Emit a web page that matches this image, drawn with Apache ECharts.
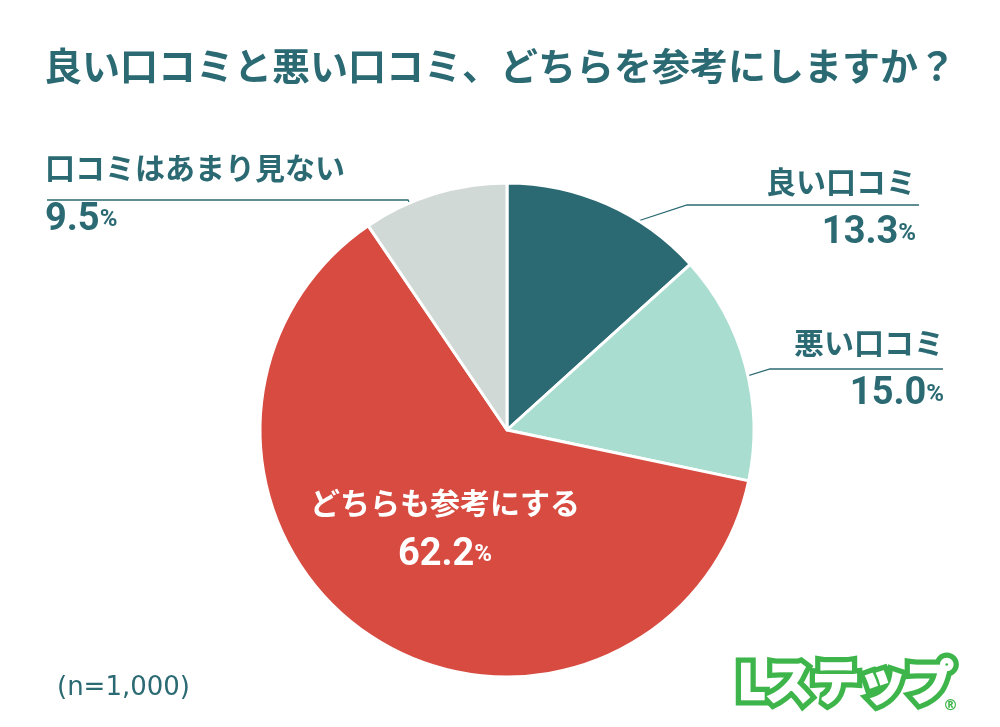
<!DOCTYPE html>
<html><head><meta charset="utf-8">
<script src="https://cdn.jsdelivr.net/npm/echarts@6/dist/echarts.min.js"></script>
<style>html,body{margin:0;padding:0;background:#fff}#c{width:1000px;height:727px}</style>
</head><body><div id="c"></div>
<script>
const categories = ['良い口コミ', '悪い口コミ', 'どちらも参考にする', '口コミはあまり見ない'];
const values = [13.3, 15.0, 62.2, 9.5];
const colors = ['#2b6a73', '#a8ddd0', '#d84b41', '#d0d9d6'];
const titleText = '良い口コミと悪い口コミ、どちらを参考にしますか？';
const noteText = '(n=1,000)';
const logoText = 'Lステップ';

const TEAL = '#2b6a73';
const GREEN = '#3db54a';
const CJK = '"Noto Sans CJK JP", "Noto Sans", sans-serif';
const NUM = 'Roboto, "Noto Sans", sans-serif';

// label placement per slice
const labelSpots = [
  { x: 916, top: 156.5, align: 'right', line: [[638, 221], [687, 205], [919, 205]] },
  { x: 944, top: 317.5, align: 'right', line: [[699, 391], [770, 369], [943, 369]] },
  { x: 445, top: 478, align: 'center', line: null },
  { x: 45, top: 143, align: 'left', line: [[432, 247], [408, 200], [47, 200]] }
];

const data = categories.map((name, i) => {
  const inside = i === 2;
  const pre = inside ? 'i' : '';
  return {
    name: name,
    value: values[i],
    itemStyle: { color: colors[i] },
    label: {
      position: inside ? 'inside' : 'outside',
      formatter: p => '{n' + pre + '|' + p.name + '}\n{v' + pre + '|' + p.value.toFixed(1) + '}{p' + pre + '|%}'
    },
    labelLine: { show: !inside }
  };
});

const richBase = (c) => ({
  n: { fontSize: 30, fontWeight: 'bold', color: c, fontFamily: CJK, lineHeight: 50 },
  v: { fontSize: 38, fontWeight: 'bold', color: c, fontFamily: NUM, lineHeight: 54 },
  p: { fontSize: 24, fontWeight: 'bold', color: c, fontFamily: NUM, lineHeight: 54 }
});
const rt = richBase(TEAL), rw = richBase('#ffffff');

const chart = echarts.init(document.getElementById('c'), null, { renderer: 'canvas' });
chart.setOption({
  backgroundColor: '#ffffff',
  animation: false,
  title: {
    text: titleText,
    left: 'center',
    top: 47,
    padding: 0,
    textStyle: { fontSize: 38, fontWeight: 'bold', color: TEAL, fontFamily: CJK, lineHeight: 38 }
  },
  graphic: [
    {
      type: 'text', left: 57, top: 675,
      style: { text: noteText, fill: TEAL, font: '26px "DejaVu Sans", sans-serif' }
    },
    {
      type: 'text', x: 738, y: 681,
      style: {
        text: logoText, fill: GREEN, stroke: GREEN, lineWidth: 13,
        font: 'bold 47px "Noto Sans CJK JP", sans-serif', textVerticalAlign: 'middle', lineJoin: 'round'
      }
    },
    {
      type: 'text', x: 738, y: 681,
      style: {
        text: logoText, fill: '#ffffff', stroke: '#ffffff', lineWidth: 2.5,
        font: 'bold 47px "Noto Sans CJK JP", sans-serif', textVerticalAlign: 'middle', lineJoin: 'round'
      }
    },
    {
      type: 'text', x: 943, y: 699,
      style: { text: '®', fill: GREEN, font: 'bold 15px "DejaVu Sans", sans-serif' }
    }
  ],
  series: [{
    type: 'pie',
    center: [507, 430],
    radius: [0, 247],
    startAngle: 90,
    clockwise: true,
    avoidLabelOverlap: false,
    itemStyle: { borderColor: '#ffffff', borderWidth: 3 },
    emphasis: { disabled: true },
    label: {
      show: true,
      rich: {
        n: rt.n, v: rt.v, p: rt.p,
        ni: rw.n, vi: rw.v, pi: rw.p
      }
    },
    labelLine: { show: true, lineStyle: { color: TEAL, width: 1.3 } },
    labelLayout: function (p) {
      const s = labelSpots[p.dataIndex];
      const o = { x: s.x, y: s.top, align: s.align, verticalAlign: 'top' };
      if (s.line) o.labelLinePoints = s.line;
      return o;
    },
    data: data
  }]
});
</script>
</body></html>
